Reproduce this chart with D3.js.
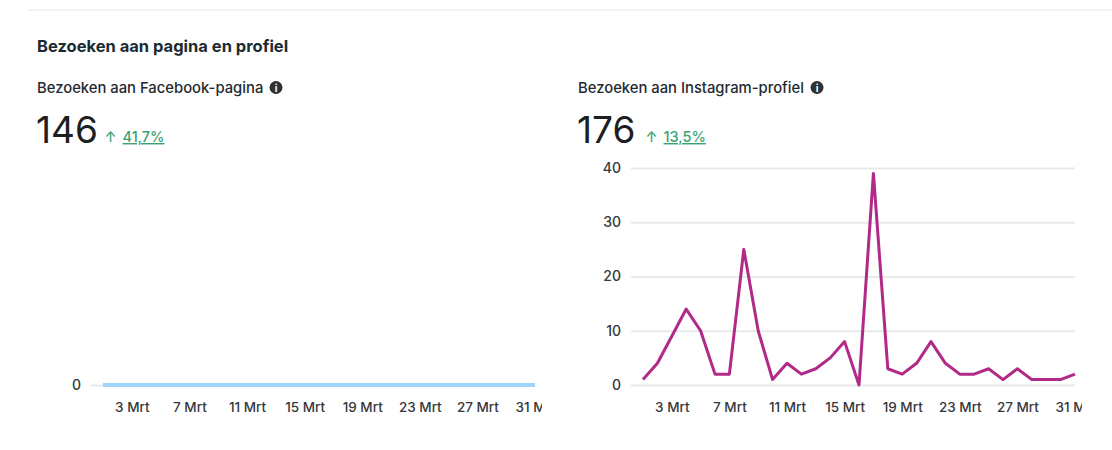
<!DOCTYPE html>
<html>
<head>
<meta charset="utf-8">
<script src="https://cdn.jsdelivr.net/npm/d3@7"></script>
<style>
  body { margin: 0; background: #fff; font-family: Inter, "Noto Sans", sans-serif; }
  svg text { font-family: Inter, "Noto Sans", sans-serif; }
</style>
</head>
<body>
<svg id="chart" width="1112" height="450"></svg>
<script>
const days = ["1 Mrt","2 Mrt","3 Mrt","4 Mrt","5 Mrt","6 Mrt","7 Mrt","8 Mrt","9 Mrt","10 Mrt",
  "11 Mrt","12 Mrt","13 Mrt","14 Mrt","15 Mrt","16 Mrt","17 Mrt","18 Mrt","19 Mrt","20 Mrt",
  "21 Mrt","22 Mrt","23 Mrt","24 Mrt","25 Mrt","26 Mrt","27 Mrt","28 Mrt","29 Mrt","30 Mrt","31 Mrt"];
const tickDays = ["3 Mrt","7 Mrt","11 Mrt","15 Mrt","19 Mrt","23 Mrt","27 Mrt","31 Mrt"];
const facebookVisits = [0,0,0,0,0,0,0,0,0,0,0,0,0,0,0,0,0,0,0,0,0,0,0,0,0,0,0,0,0,0,0];
const instagramVisits = [1,4,9,14,10,2,2,25,10,1,4,2,3,5,8,0,39,3,2,4,8,4,2,2,3,1,3,1,1,1,2];
const facebookTicks = [0];
const instagramTicks = [0,10,20,30,40];

const svg = d3.select("#chart");

// faint card edge at the top
svg.append("line")
  .attr("x1", 28).attr("x2", 1112).attr("y1", 10).attr("y2", 10)
  .attr("stroke", "#eeeff1").attr("stroke-width", 1.5);

svg.append("text")
  .attr("x", 37).attr("y", 52)
  .attr("font-size", 16.5).attr("font-weight", 700).attr("fill", "#1c2b33")
  .text("Bezoeken aan pagina en profiel");

const drawHeader = (x, label, iconX, total, change) => {
  svg.append("text")
    .attr("x", x).attr("y", 92.5)
    .attr("font-size", 14.8).attr("font-weight", 500).attr("fill", "#1f2a30")
    .text(label);
  svg.append("circle")
    .attr("cx", iconX).attr("cy", 87.5).attr("r", 6.5)
    .attr("fill", "#2b3236");
  svg.append("text")
    .attr("x", iconX).attr("y", 91.5)
    .attr("text-anchor", "middle")
    .attr("font-size", 10).attr("font-weight", 700).attr("fill", "#fff")
    .text("i");
  svg.append("text")
    .attr("x", x - 1).attr("y", 143)
    .attr("font-size", 37).attr("fill", "#1c1e21")
    .text(total);
  const tx = x + (total.length * 21.5) + 3;
  svg.append("text")
    .attr("x", tx).attr("y", 142)
    .attr("font-size", 14).attr("font-weight", 500).attr("fill", "#3aa371")
    .text("↑");
  svg.append("text")
    .attr("x", tx + 18).attr("y", 142)
    .attr("font-size", 14.5).attr("font-weight", 500).attr("fill", "#3aa371")
    .attr("text-decoration", "underline")
    .text(change);
};

drawHeader(37, "Bezoeken aan Facebook-pagina", 276, "146", "41,7%");
drawHeader(578, "Bezoeken aan Instagram-profiel", 817, "176", "13,5%");

const drawPanel = (id, values, ticks, yMax, x0, x1, color, width) => {
  const xScale = d3.scalePoint().domain(days).range([x0, x1]);
  const yScale = d3.scaleLinear().domain([0, yMax]).range([385, 168]);
  const gridStart = x0 - 12;

  svg.append("clipPath").attr("id", "clip-" + id)
    .append("rect").attr("x", x0 - 60).attr("y", 0).attr("width", x1 - x0 + 67).attr("height", 450);

  const yAxis = svg.append("g")
    .attr("transform", `translate(${gridStart},0)`)
    .call(d3.axisLeft(yScale).tickValues(ticks).tickSize(-(x1 - gridStart)).tickPadding(10));
  yAxis.select(".domain").remove();
  yAxis.selectAll(".tick line").attr("stroke", "#e8e9eb").attr("stroke-width", 2);
  yAxis.selectAll(".tick text")
    .attr("font-size", 14).attr("font-weight", 500).attr("fill", "#34383b")
    .style("font-family", "Inter, sans-serif");

  const xAxis = svg.append("g")
    .attr("clip-path", `url(#clip-${id})`)
    .attr("transform", "translate(0,395)")
    .call(d3.axisBottom(xScale).tickValues(tickDays).tickSize(0).tickPadding(7));
  xAxis.select(".domain").remove();
  xAxis.selectAll(".tick text")
    .attr("font-size", 13.5).attr("font-weight", 500).attr("fill", "#34383b")
    .style("font-family", "Inter, sans-serif");

  svg.append("path")
    .datum(values)
    .attr("fill", "none")
    .attr("stroke", color)
    .attr("stroke-width", width)
    .attr("stroke-linejoin", "round")
    .attr("d", d3.line().x((d, i) => xScale(days[i])).y(d => yScale(d)));
};

drawPanel("fb", facebookVisits, facebookTicks, 40, 103, 535, "#9fd6ff", 4);
drawPanel("ig", instagramVisits, instagramTicks, 40, 643, 1075, "#b12a87", 3);
</script>
</body>
</html>
